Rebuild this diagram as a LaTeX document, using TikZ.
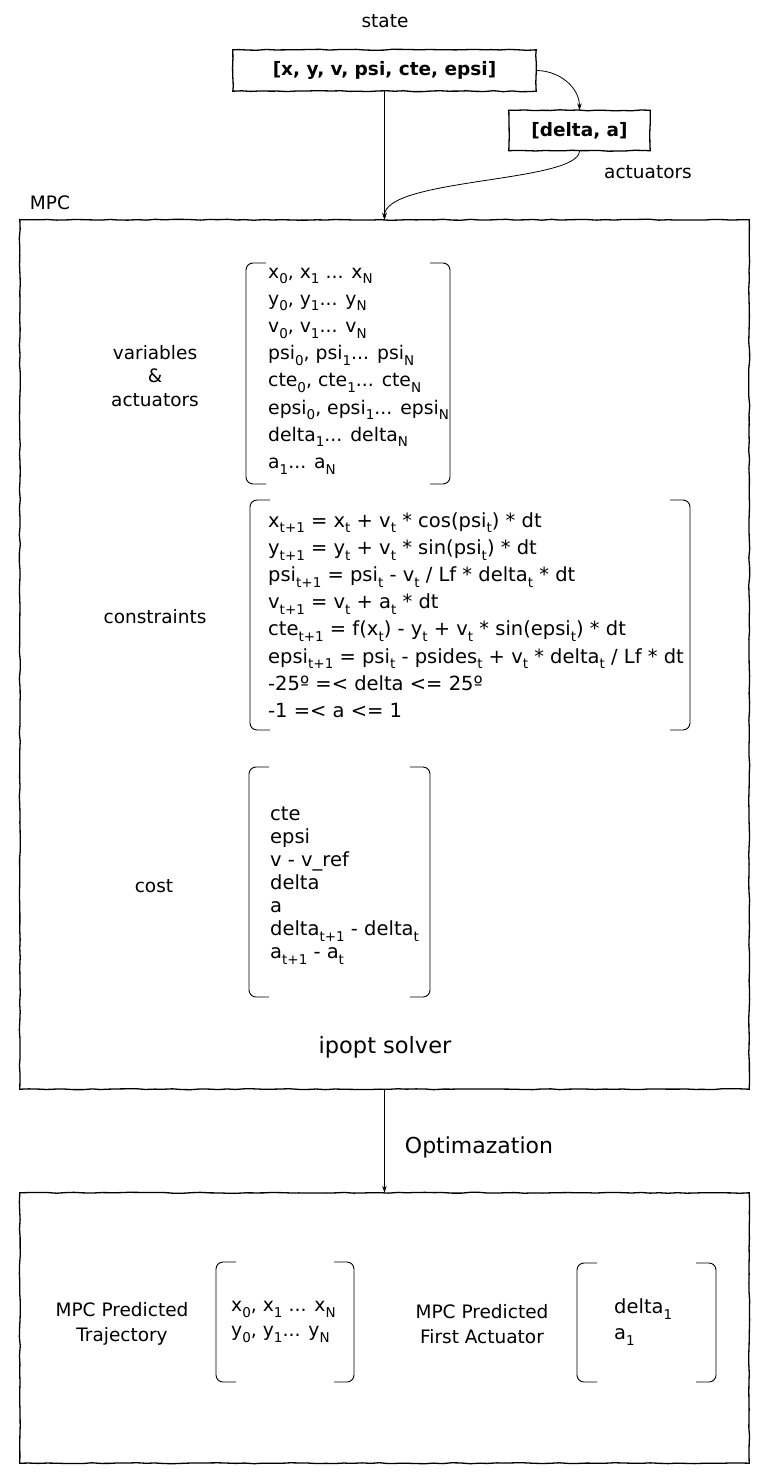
\documentclass[tikz,border=0pt]{standalone}
\usepackage{fontspec}
\setmainfont{DejaVu Sans}
\usetikzlibrary{decorations.pathmorphing,arrows.meta}
\newcommand\sbx[1]{\raisebox{-0.3em}{\fontsize{13.5}{13.5}\selectfont #1}}
\begin{document}
\begin{tikzpicture}[x=1pt,y=-1pt,
  wob/.style={line width=1.3pt,decorate,decoration={random steps,segment length=9pt,amplitude=0.5pt}},
  sbox/.style={inner sep=0pt,font=\fontsize{18.5}{20}\selectfont\bfseries},
  bigbox/.style={inner sep=0pt},
  brk/.style={line width=0.9pt,rounded corners=7pt},
  arr/.style={line width=0.8pt,-{Stealth[length=7pt,width=4.5pt]}},
  lbl/.style={inner sep=0pt,font=\fontsize{18.5}{23.5}\selectfont,align=center},
  lst/.style={inner sep=0pt,anchor=west,font=\fontsize{19.5}{27.2}\selectfont,align=left},
]
\pgfmathsetseed{7}
\useasboundingbox (0,0) rectangle (762,1475);
\fill[white] (0,0) rectangle (762,1475);

% top boxes
\node[lbl] (statelbl) at (385,21) {state};
\node[sbox,minimum width=303pt,minimum height=41pt] (stateb) at (384.5,70.5) {[x, y, v, psi, cte, epsi]};
\draw[wob] (stateb.north west) rectangle (stateb.south east);
\node[sbox,minimum width=141pt,minimum height=40pt] (act) at (579.5,130.5) {[delta, a]};
\draw[wob] (act.north west) rectangle (act.south east);
\node[lbl] (actlbl) at (648,172) {actuators};
\node[lbl] (mpclbl) at (50,203) {MPC};

% big boxes
\node[bigbox,minimum width=729pt,minimum height=869pt] (mpc) at (384.5,654.5) {};
\draw[wob] (mpc.north west) rectangle (mpc.south east);
\node[bigbox,minimum width=729pt,minimum height=270pt] (low) at (384.5,1328) {};
\draw[wob] (low.north west) rectangle (low.south east);

% connectors
\draw[arr] (stateb.south) -- (mpc.north);
\draw[arr] (stateb.east) to[out=0,in=90] (act.north);
\draw[arr] (act.south) .. controls +(0,32) and +(0,-42) .. (mpc.north);
\draw[arr] (mpc.south) -- (low.north);
\node[lbl,font=\fontsize{22}{24}\selectfont] (optlbl) at (479,1147) {Optimazation};

% brackets
\newcommand\drawbrk[4]{%
  \draw[brk] (#1+20,#3) -- (#1,#3) -- (#1,#4) -- (#1+20,#4);
  \draw[brk] (#2-20,#3) -- (#2,#3) -- (#2,#4) -- (#2-20,#4);}
\drawbrk{246}{450}{263}{484}
\drawbrk{250}{690}{500}{730}
\drawbrk{249}{430}{767}{997}
\drawbrk{216}{354}{1262}{1382}
\drawbrk{577}{716}{1263}{1382}

% MPC contents
\node[lbl] (varlbl) at (155,376) {variables\\\&\\actuators};
\node[lst,font=\fontsize{18.8}{27.2}\selectfont] (vars) at (268,371) {x\sbx{0}, x\sbx{1} ... x\sbx{N}\\
y\sbx{0}, y\sbx{1}... y\sbx{N}\\
v\sbx{0}, v\sbx{1}... v\sbx{N}\\
psi\sbx{0}, psi\sbx{1}... psi\sbx{N}\\
cte\sbx{0}, cte\sbx{1}... cte\sbx{N}\\
epsi\sbx{0}, epsi\sbx{1}... epsi\sbx{N}\\
delta\sbx{1}... delta\sbx{N}\\
a\sbx{1}... a\sbx{N}};

\node[lbl] (conlbl) at (155,617) {constraints};
\node[lst] (cons) at (268,615) {x\sbx{t+1} = x\sbx{t} + v\sbx{t} * cos(psi\sbx{t}) * dt\\
y\sbx{t+1} = y\sbx{t} + v\sbx{t} * sin(psi\sbx{t}) * dt\\
psi\sbx{t+1} = psi\sbx{t} - v\sbx{t} / Lf * delta\sbx{t} * dt\\
v\sbx{t+1} = v\sbx{t} + a\sbx{t} * dt\\
cte\sbx{t+1} = f(x\sbx{t}) - y\sbx{t} + v\sbx{t} * sin(epsi\sbx{t}) * dt\\
epsi\sbx{t+1} = psi\sbx{t} - psides\sbx{t} + v\sbx{t} * delta\sbx{t} / Lf * dt\\
-25º =< delta <= 25º\\
-1 =< a <= 1};

\node[lbl] (costlbl) at (154,886) {cost};
\node[lst,font=\fontsize{19.5}{23}\selectfont] (cost) at (270,886) {cte\\
epsi\\
v - v\_ref\\
delta\\
a\\
delta\sbx{t+1} - delta\sbx{t}\\
a\sbx{t+1} - a\sbx{t}};

\node[lbl,font=\fontsize{22.5}{26}\selectfont] (solver) at (385,1047) {ipopt solver};

% lower contents
\node[lbl,font=\fontsize{18.5}{25.5}\selectfont] (trajlbl) at (122,1324) {MPC Predicted\\Trajectory};
\node[lst,font=\fontsize{18.8}{25.5}\selectfont] (traj) at (231,1322) {x\sbx{0}, x\sbx{1} ... x\sbx{N}\\
y\sbx{0}, y\sbx{1}... y\sbx{N}};
\node[lbl,font=\fontsize{18.5}{25.5}\selectfont] (firstlbl) at (482,1324) {MPC Predicted\\First Actuator};
\node[lst,font=\fontsize{19.5}{25.5}\selectfont] (first) at (614,1322) {delta\sbx{1}\\
a\sbx{1}};
\end{tikzpicture}
\end{document}
